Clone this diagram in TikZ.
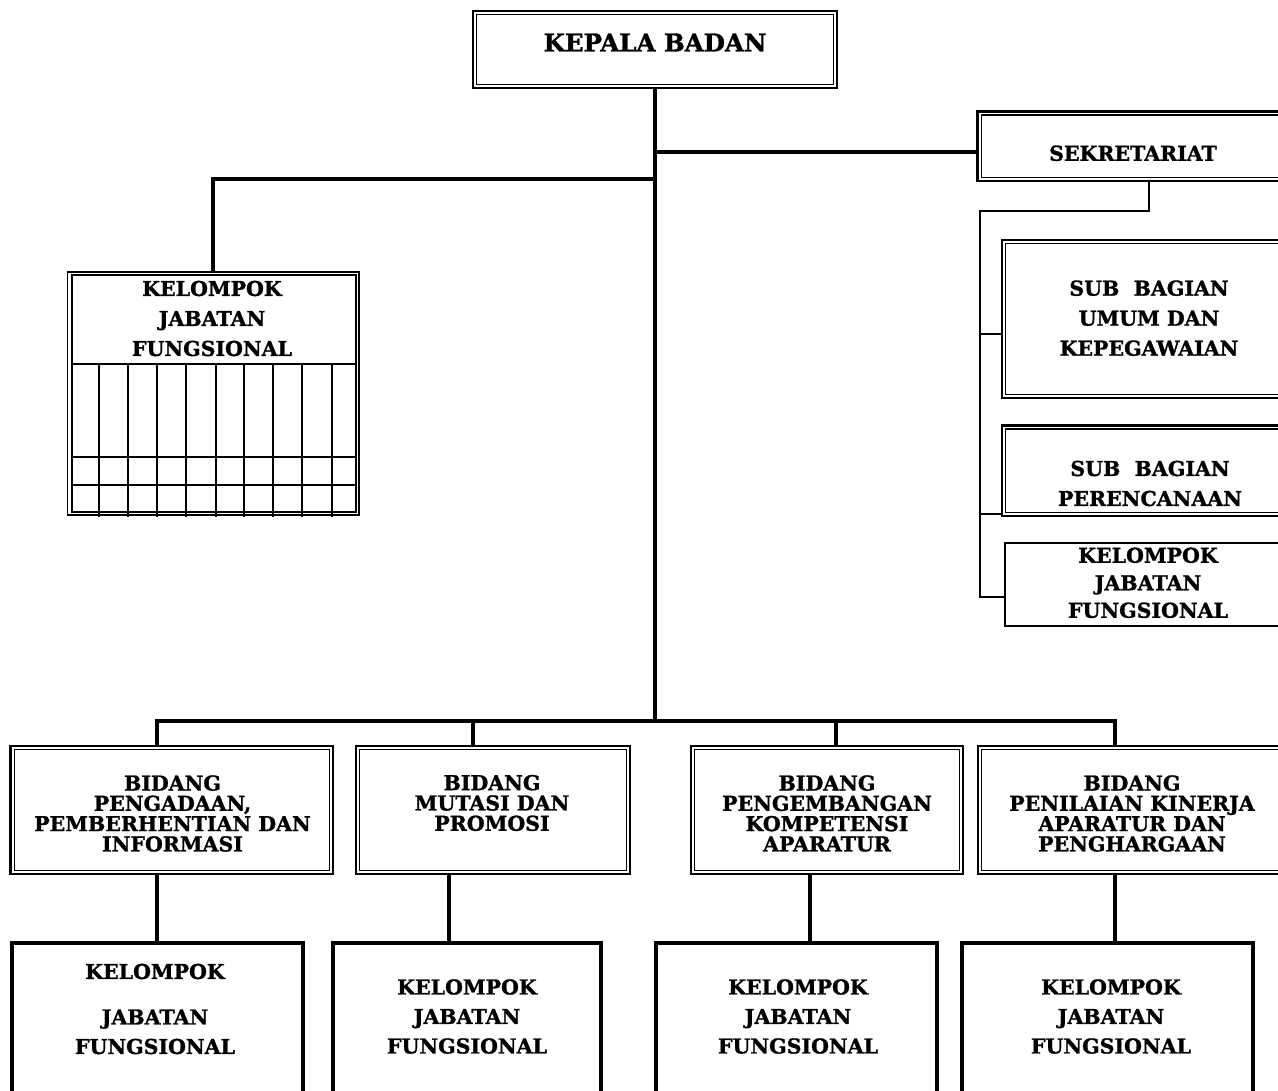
\documentclass[tikz,border=0pt]{standalone}
\usepackage{fontspec}
\setmainfont{DejaVu Serif}[BoldFeatures={FakeBold=1.3}]
\begin{document}
\begin{tikzpicture}[x=1pt,y=-1pt,
  % connectors
  trunk/.style={line width=4pt},
  branch/.style={line width=2pt},
  % boxes
  dbox/.style={draw, rectangle, line width=2.4pt, inner sep=0pt, outer sep=0pt},
  gbox/.style={draw, rectangle, line width=1.8pt, inner sep=0pt, outer sep=0pt},
  sbox/.style={draw, rectangle, line width=2pt, inner sep=0pt, outer sep=0pt},
  kbox/.style={draw, rectangle, line width=4pt, inner sep=0pt, outer sep=0pt},
  innerline/.style={line width=1.2pt},
  gridline/.style={line width=2pt},
  % labels
  head/.style={font=\bfseries\fontsize{24.5}{26}\selectfont, align=center, inner sep=0pt},
  lbl/.style={font=\bfseries\fontsize{20.5}{30}\selectfont, align=center, inner sep=0pt},
  lblk/.style={font=\bfseries\fontsize{20.5}{27.5}\selectfont, align=center, inner sep=0pt},
  lblb/.style={font=\bfseries\fontsize{20.5}{20.3}\selectfont, align=center, inner sep=0pt},
  lblf/.style={font=\bfseries\fontsize{20.5}{29.5}\selectfont, align=center, inner sep=0pt},
]
\useasboundingbox (0,0) rectangle (1278,1091);
\clip (0,0) rectangle (1278,1091);

% ---- boxes ----
\node[dbox, minimum width=364pt, minimum height=77pt]   (kepala)    at (655,49.5) {};
\node[dbox, minimum width=322.5pt, minimum height=69.5pt] (sek)     at (1138.75,146.25) {};
\node[dbox, minimum width=298pt, minimum height=158pt]  (subumum)   at (1151,319) {};
\node[dbox, minimum width=298pt, minimum height=90.5pt] (subperenc) at (1151,470.75) {};
\node[sbox, minimum width=295.5pt, minimum height=83.5pt] (kjfs)    at (1152.25,584.25) {};
\node[gbox, minimum width=291.8pt, minimum height=243.3pt] (kjfl)   at (213.4,393.35) {};

\node[dbox, minimum width=322.5pt, minimum height=128pt] (b1) at (171.75,810) {};
\node[dbox, minimum width=274pt, minimum height=128pt]   (b2) at (493,810) {};
\node[dbox, minimum width=272pt, minimum height=128pt]   (b3) at (827,810) {};
\node[dbox, minimum width=322.3pt, minimum height=128pt] (b4) at (1138.85,810) {};

\node[kbox, minimum width=291pt, minimum height=177.5pt] (k1) at (157.5,1031.25) {};
\node[kbox, minimum width=268pt, minimum height=177.5pt] (k2) at (467,1031.25) {};
\node[kbox, minimum width=281pt, minimum height=177.5pt] (k3) at (796.5,1031.25) {};
\node[kbox, minimum width=291pt, minimum height=177.5pt] (k4) at (1107.5,1031.25) {};

% inner rules of the double-framed boxes
\foreach \n in {kepala,sek,subumum,subperenc,b1,b2,b3,b4}
  \draw[innerline] ([shift={(3.6,3.6)}]\n.north west) rectangle ([shift={(-3.6,-3.6)}]\n.south east);
\draw[gridline] ([shift={(4.2,3.4)}]kjfl.north west) rectangle ([shift={(-3.6,-3)}]kjfl.south east);

% grid of the functional group table
\draw[gridline] (71.7,364.3) -- (355.7,364.3);
\draw[gridline] (71.7,457.3) -- (355.7,457.3);
\draw[gridline] (71.7,485) -- (355.7,485);
\foreach \x in {99.3,128.3,156.7,186,215.7,244.3,273.3,302.3,331.7}
  \draw[gridline] (\x,364.3) -- (\x,517);

% ---- connectors ----
\coordinate (j-sek)  at (655,152);
\coordinate (j-left) at (655,179);
\coordinate (j-bus)  at (655,721);
\coordinate (d1) at (157,721);
\coordinate (d2) at (473,721);
\coordinate (d3) at (836,721);
\coordinate (d4) at (1115,721);
\coordinate (l1) at (157,874);
\coordinate (l2) at (449,874);
\coordinate (l3) at (810,874);
\coordinate (l4) at (1115,874);

\draw[trunk] (kepala.south) -- (j-bus);
\draw[trunk] (j-sek) -- (sek.west |- j-sek);
\draw[trunk] (j-left) -| (kjfl.north);
\draw[trunk] (b1.north -| d1) -- (d1) -- (d4) -- (b4.north -| d4);
\draw[trunk] (d2) -- (b2.north -| d2);
\draw[trunk] (d3) -- (b3.north -| d3);
\draw[trunk] (l1) -- (k1.north -| l1);
\draw[trunk] (l2) -- (k2.north -| l2);
\draw[trunk] (l3) -- (k3.north -| l3);
\draw[trunk] (l4) -- (k4.north -| l4);

\coordinate (s1)   at (1148.7,210.7);
\coordinate (s2)   at (979.6,210.7);
\coordinate (s3)   at (979.6,596.6);
\coordinate (s-um) at (979.6,334.4);
\coordinate (s-pr) at (979.6,514);
\draw[branch] (sek.south -| s1) -- (s1) -- (s2) -- (s3) -- (kjfs.west |- s3);
\draw[branch] (s-um) -- (subumum.west |- s-um);
\draw[branch] (s-pr) -- (subperenc.west |- s-pr);

% ---- labels ----
\node[head] (t-kepala) at (655,42.5) {KEPALA BADAN};
\node[lbl] (t-sek) at (1133,153.3) {SEKRETARIAT};
\node[lbl] (t-subumum) at (1149,318.2) {SUB\ \ BAGIAN\\UMUM DAN\\KEPEGAWAIAN};
\node[lbl] (t-subperenc) at (1150,483.5) {SUB\ \ BAGIAN\\PERENCANAAN};
\node[lblk] (t-kjfs) at (1148,582.8) {KELOMPOK\\JABATAN\\FUNGSIONAL};
\node[lbl] (t-kjfl) at (212,318.5) {KELOMPOK\\JABATAN\\FUNGSIONAL};

\node[lblb] (t-b1) at (172.5,813.5) {BIDANG\\PENGADAAN,\\PEMBERHENTIAN DAN\\INFORMASI};
\node[lblb] (t-b2) at (492,803) {BIDANG\\MUTASI DAN\\PROMOSI};
\node[lblb] (t-b3) at (827,813.5) {BIDANG\\PENGEMBANGAN\\KOMPETENSI\\APARATUR};
\node[lblb] (t-b4) at (1132,813.5) {BIDANG\\PENILAIAN KINERJA\\APARATUR DAN\\PENGHARGAAN};

\node[lblf] (t-k1) at (155,1009) {KELOMPOK\\[16pt]JABATAN\\FUNGSIONAL};
\node[lblf] (t-k2) at (467,1016.5) {KELOMPOK\\JABATAN\\FUNGSIONAL};
\node[lblf] (t-k3) at (798,1016.5) {KELOMPOK\\JABATAN\\FUNGSIONAL};
\node[lblf] (t-k4) at (1111,1016.5) {KELOMPOK\\JABATAN\\FUNGSIONAL};
\end{tikzpicture}
\end{document}
